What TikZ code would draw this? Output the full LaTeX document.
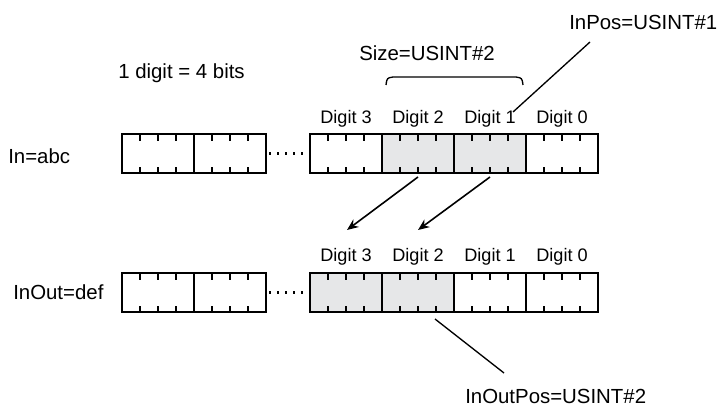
\documentclass[tikz,border=0pt]{standalone}
\usepackage{fontspec}
\setmainfont{Liberation Sans}
\usetikzlibrary{positioning, arrows.meta, calc}
\definecolor{cellGray}{HTML}{E6E7E8}

\begin{document}
\begin{tikzpicture}[x=0.75pt, y=-0.75pt,
  cell/.style={draw, line width=1.4pt, minimum width=54pt, minimum height=29.25pt, inner sep=0pt, outer sep=0pt},
  hit/.style={cell, fill=cellGray},
  lbl/.style={font=\fontsize{15.3}{18}\selectfont, anchor=west, inner sep=0pt},
  dig/.style={font=\fontsize{13.6}{16}\selectfont, inner sep=0pt},
  tick/.style={line width=1.1pt},
  dotrow/.style={line width=1.6pt, dash pattern=on 1.6pt off 4.4pt},
  arr/.style={-{Stealth[length=8.5pt, width=7pt]}, line width=1.2pt},
  lead/.style={line width=1pt},
]
  \useasboundingbox (0,0) rectangle (722,406);

  % labels
  \node[lbl] (rule)  at (118, 73) {1 digit = 4 bits};
  \node[lbl] (size)  at (359, 53) {Size=USINT\#2};
  \node[lbl] (inpos) at (569, 22) {InPos=USINT\#1};
  \node[lbl] (inoutpos) at (465,396) {InOutPos=USINT\#2};
  \node[lbl] (inname)  at (8, 156)  {In=abc};
  \node[lbl] (outname) at (13, 292) {InOut=def};

  % In row
  \node[cell] (inL1) at (158,153.5) {};
  \node[cell] (inL2) at (230,153.5) {};
  \node[cell] (in3)  at (346,153.5) {};
  \node[hit]  (in2)  at (418,153.5) {};
  \node[hit]  (in1)  at (490,153.5) {};
  \node[cell] (in0)  at (562,153.5) {};

  % InOut row
  \node[cell] (outL1) at (158,292.5) {};
  \node[cell] (outL2) at (230,292.5) {};
  \node[hit]  (out3)  at (346,292.5) {};
  \node[hit]  (out2)  at (418,292.5) {};
  \node[cell] (out1)  at (490,292.5) {};
  \node[cell] (out0)  at (562,292.5) {};

  % bit ticks
  \foreach \c in {inL1,inL2,in3,in2,in1,in0,outL1,outL2,out3,out2,out1,out0}
    \foreach \f in {0.25,0.5,0.75} {
      \draw[tick] ($(\c.north west)!\f!(\c.north east)$) -- ++(0,7);
      \draw[tick] ($(\c.south west)!\f!(\c.south east)$) -- ++(0,-6);
    }

  \draw[dotrow] ([xshift=2.5pt]inL2.east) -- (in3.west);
  \draw[dotrow] ([xshift=2.5pt]outL2.east) -- (out3.west);

  % digit names
  \foreach \d in {3,2,1,0} {
    \node[dig] (ta\d) at ($(in\d.north)+(0,-15)$) {Digit \d};
    \node[dig] (tb\d) at ($(out\d.north)+(0,-16)$) {Digit \d};
  }

  % size brace
  \draw[lead] (386,85) .. controls (387,78) .. (393,77) -- (516,77) .. controls (522,78) .. (523,85);

  \coordinate (inposA) at (590,42);
  \coordinate (inposB) at (513,112);
  \draw[lead] (inposA) -- (inposB);

  \coordinate (outposA) at (435,319);
  \coordinate (outposB) at (504,373);
  \draw[lead] (outposA) -- (outposB);

  % copy arrows
  \coordinate (tip3) at (347,230);
  \coordinate (tip2) at (418,230);
  \draw[arr] ([yshift=-3pt]in2.south) -- (tip3);
  \draw[arr] ([yshift=-3pt]in1.south) -- (tip2);
\end{tikzpicture}
\end{document}
